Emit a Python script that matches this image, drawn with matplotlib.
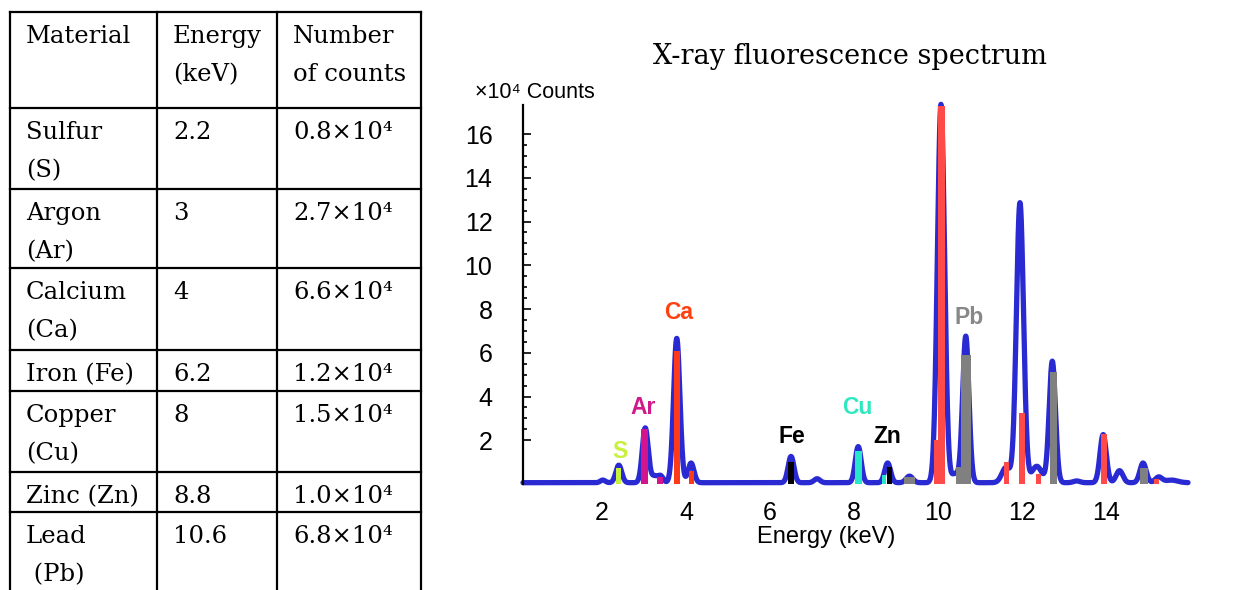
import numpy as np
import matplotlib
matplotlib.use('Agg')
import matplotlib.pyplot as plt
from matplotlib.ticker import FixedLocator

# ---- table data ----
materials = ["Sulfur\n(S)", "Argon\n(Ar)", "Calcium\n(Ca)", "Iron (Fe)",
             "Copper\n(Cu)", "Zinc (Zn)", "Lead\n (Pb)"]
energies = ["2.2", "3", "4", "6.2", "8", "8.8", "10.6"]
counts = [0.8, 2.7, 6.6, 1.2, 1.5, 1.0, 6.8]
header = ["Material", "Energy\n(keV)", "Number\nof counts"]

# ---- spectrum data (keV, x1e4 counts, width keV) ----
peak_kev = [2.02, 2.40, 3.03, 3.25, 3.40, 3.78, 4.12, 6.50, 7.12, 8.10, 8.80,
            9.32, 10.07, 10.40, 10.66, 11.62, 11.95, 12.35, 12.72, 13.30,
            13.93, 14.32, 14.88, 15.25, 15.55]
peak_height = [0.12, 0.80, 2.50, 0.30, 0.28, 6.60, 0.90, 1.20, 0.18, 1.65, 0.90,
               0.30, 17.30, 0.40, 6.70, 0.70, 12.80, 0.75, 5.55, 0.08,
               2.20, 0.55, 0.90, 0.25, 0.12]
peak_sigma = [0.06, 0.07, 0.07, 0.08, 0.06, 0.075, 0.07, 0.07, 0.07, 0.07, 0.07,
              0.08, 0.085, 0.08, 0.075, 0.10, 0.085, 0.12, 0.075, 0.08,
              0.075, 0.08, 0.075, 0.08, 0.15]
baseline = 0.06

# emission lines (bars)
line_kev = [2.40, 3.02, 3.38, 3.78, 4.12, 6.50, 8.10, 8.72, 8.84, 9.32, 9.95,
            10.08, 10.50, 10.67, 11.62, 12.00, 12.39, 12.74, 13.95, 14.90, 15.20]
line_height = [0.73, 2.50, 0.30, 6.10, 0.60, 1.00, 1.50, 0.40, 0.80, 0.30, 2.00,
               17.30, 0.80, 5.90, 1.00, 3.25, 0.45, 5.10, 2.30, 0.73, 0.25]
line_width = [0.12, 0.17, 0.14, 0.14, 0.12, 0.12, 0.16, 0.10, 0.12, 0.26, 0.10,
              0.17, 0.14, 0.24, 0.12, 0.16, 0.14, 0.17, 0.16, 0.18, 0.12]
line_color = ['#c6f23a', '#d4148c', '#d4148c', '#ff3a1a', '#ff3a1a', 'black',
              '#26e8c8', '#26e8c8', 'black', '#808080', '#ff4a4a',
              '#ff4a4a', '#808080', '#808080', '#ff4a4a', '#ff4a4a', '#ff4a4a',
              '#808080', '#ff4a4a', '#808080', '#ff4a4a']

elements = ["S", "Ar", "Ca", "Fe", "Cu", "Zn", "Pb"]
label_kev = [2.44, 2.98, 3.82, 6.51, 8.07, 8.79, 10.73]
label_y = [1.47, 3.50, 7.85, 2.15, 3.50, 2.15, 7.60]
label_color = ['#c8f03c', '#d01a8a', '#ff4010', 'black', '#30e8c0', 'black', '#888888']

W, H = 1247, 590
fig = plt.figure(figsize=(W / 100, H / 100), dpi=100)

# ---- table drawn in pixel coordinates ----
tab = fig.add_axes([0, 0, 1, 1])
tab.set_xlim(0, W); tab.set_ylim(H, 0); tab.axis('off')
col_x = [10, 157, 277, 421]
row_y = [12, 108, 189, 268, 350, 391, 472, 512]
for x in col_x:
    tab.plot([x, x], [row_y[0], H], color='black', lw=1.6)
for y in row_y:
    tab.plot([col_x[0], col_x[-1]], [y, y], color='black', lw=1.6)

serif = ['DejaVu Serif', 'DejaVu Sans']
text_x = [26, 173, 293]
def cell(col, top, s):
    for k, part in enumerate(s.split("\n")):
        tab.text(text_x[col], top + 31 + 38 * k, part, family=serif, fontsize=17.5,
                 va='baseline', ha='left')

for c, h in enumerate(header):
    cell(c, row_y[0], h)
for r in range(len(materials)):
    top = row_y[r + 1]
    cell(0, top, materials[r])
    cell(1, top, energies[r])
    cell(2, top, f"{counts[r]:.1f}×10⁴")

# ---- spectrum ----
ax = fig.add_axes([523 / W, 106 / H, 665 / W, 379 / H])
energy = np.linspace(0.12, 15.95, 3000)
spec = np.full_like(energy, baseline)
for c, h, s in zip(peak_kev, peak_height, peak_sigma):
    spec += h * np.exp(-0.5 * ((energy - c) / s) ** 2)
ax.plot(energy, spec, color='#2a2ad2', lw=3.8, solid_capstyle='round', clip_on=False, zorder=2)
ax.bar(line_kev, line_height, width=line_width, color=line_color, zorder=3, clip_on=False)

for el, x, y, col in zip(elements, label_kev, label_y, label_color):
    ax.text(x, y, el, color=col, fontsize=16.5, fontweight='bold', family='Liberation Sans',
            ha='center', va='center')

ax.set_xlim(0.12, 15.95)
ax.set_ylim(0, 17.33)
for sp in ['top', 'right', 'bottom']:
    ax.spines[sp].set_visible(False)
ax.spines['left'].set_linewidth(1.6)
ax.set_xticks([2, 4, 6, 8, 10, 12, 14])
ax.set_yticks([2, 4, 6, 8, 10, 12, 14, 16])
ax.yaxis.set_minor_locator(FixedLocator([v for v in np.arange(2.5, 16, 0.5) if v % 2 != 0]))
ax.tick_params(axis='x', length=0, pad=12, labelsize=18)
ax.tick_params(axis='y', which='major', direction='in', length=6, width=1.2, pad=22, labelsize=18)
ax.tick_params(axis='y', which='minor', direction='in', length=3, width=1.2)
for lab in ax.get_xticklabels() + ax.get_yticklabels():
    lab.set_family('Liberation Sans')

fig.text(535 / W, 1 - 92 / H, "×10⁴ Counts", family=['Liberation Sans', 'DejaVu Sans'],
         fontsize=15.5, ha='center', va='center')
fig.text(826 / W, 1 - 537 / H, "Energy (keV)", family='Liberation Sans',
         fontsize=17, ha='center', va='center')
fig.text(850 / W, 1 - 56 / H, "X-ray fluorescence spectrum", family=serif,
         fontsize=19.5, ha='center', va='center')

fig.savefig('out.png', dpi=100)
